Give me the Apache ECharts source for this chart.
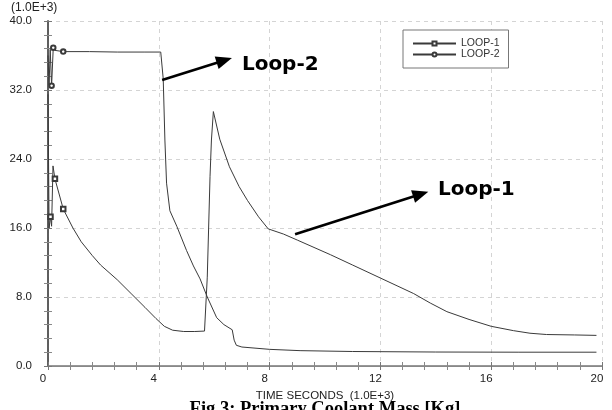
<!DOCTYPE html>
<html><head><meta charset="utf-8">
<script src="https://cdn.jsdelivr.net/npm/echarts@6/dist/echarts.min.js"></script>
<style>html,body{margin:0;padding:0;background:#fff}#c{width:612px;height:410px}</style>
</head><body><div id="c"></div>
<script>
// ---- data (time in 1.0E+3 s, mass in 1.0E+3 kg) ----
const xTicks = [0, 4, 8, 12, 16, 20];
const yTicks = [0, 8, 16, 24, 32, 40];
const seriesNames = ['LOOP-1', 'LOOP-2'];
const loop1 = [
  [0, 31.5], [0.04, 16.0], [0.09, 17.3], [0.13, 16.2], [0.18, 23.2], [0.25, 21.7],
  [0.55, 18.2], [0.9, 16.0], [1.2, 14.4], [1.6, 12.8], [1.9, 11.7], [2.5, 10.0],
  [3.0, 8.4], [3.5, 6.8], [3.9, 5.5], [4.2, 4.6], [4.5, 4.15], [4.9, 4.0],
  [5.3, 4.0], [5.65, 4.05], [5.75, 10.3], [5.85, 22.0], [5.9, 26.2], [5.97, 29.5],
  [6.2, 26.3], [6.55, 23.1], [6.9, 20.8], [7.2, 19.2], [7.6, 17.3], [7.95, 15.9],
  [8.5, 15.3], [9.0, 14.6], [10.2, 12.9], [11.0, 11.7], [12.0, 10.2], [12.6, 9.3],
  [13.2, 8.4], [13.8, 7.3], [14.4, 6.3], [15.2, 5.4], [16.0, 4.6], [16.8, 4.1],
  [17.4, 3.8], [18.0, 3.65], [19.0, 3.6], [19.8, 3.55]
];
const loop2 = [
  [0, 36.0], [0.04, 32.6], [0.08, 36.7], [0.13, 32.5], [0.19, 36.9], [0.24, 36.6],
  [0.55, 36.45], [1.5, 36.45], [2.5, 36.4], [3.5, 36.4], [4.07, 36.4], [4.16, 33.3],
  [4.22, 26.2], [4.28, 21.2], [4.4, 18.0], [4.65, 16.2], [5.0, 13.4], [5.25, 11.6],
  [5.49, 10.1], [5.75, 8.0], [6.09, 5.6], [6.35, 4.8], [6.65, 4.2], [6.72, 3.0],
  [6.8, 2.4], [7.0, 2.2], [8.0, 1.93], [9.1, 1.78], [11.0, 1.68], [14.0, 1.62],
  [17.0, 1.6], [19.8, 1.6]
];
const loop1Markers = [2, 5, 6];
const loop2Markers = [4, 3, 6];
const annotations = [
  { text: 'Loop-2', from: [4.12, 33.16], to: [6.64, 35.71], label: [7.0, 34.9] },
  { text: 'Loop-1', from: [8.92, 15.27], to: [13.73, 20.21], label: [14.08, 20.4] }
];

// ---- chart ----
const chart = echarts.init(document.getElementById('c'), null, { renderer: 'canvas' });
const font = 'Liberation Sans, Arial, Helvetica, sans-serif';
const xMin = xTicks[0], xMax = xTicks[xTicks.length - 1], xInt = xTicks[1] - xTicks[0];
const yMin = yTicks[0], yMax = yTicks[yTicks.length - 1], yInt = yTicks[1] - yTicks[0];

function boxAxis(base, extra) {
  return Object.assign({
    type: 'value', min: base.min, max: base.max, interval: base.interval,
    axisTick: { show: true, inside: false, length: -4, lineStyle: { color: '#777' } },
    minorTick: { show: true, splitNumber: 5, length: -4, lineStyle: { color: '#888' } },
    axisLabel: { show: false },
    splitLine: { show: false }
  }, extra);
}
const xBase = { min: xMin, max: xMax, interval: xInt };
const yBase = { min: yMin, max: yMax, interval: yInt };

const lineColor = '#3a3a3a';
chart.setOption({
  animation: false,
  backgroundColor: '#fff',
  grid: { left: 48, right: 10, top: 21, bottom: 44, containLabel: false },
  xAxis: [
    boxAxis(xBase, {
      position: 'bottom',
      name: 'TIME SECONDS  (1.0E+3)', nameLocation: 'middle', nameGap: 20,
      nameTextStyle: { fontFamily: font, fontSize: 11.5, color: '#222' },
      axisLine: { show: true, lineStyle: { color: '#777', width: 1.5 } },
      axisLabel: { show: true, fontFamily: font, fontSize: 11.5, color: '#222', margin: 7, padding: [0, 10, 0, 0],
        formatter: v => String(v) },
      splitLine: { show: true, lineStyle: { color: '#d4d4d4', type: [4, 4], width: 1 } }
    }),
    boxAxis(xBase, { position: 'top', axisLine: { show: true, lineStyle: { color: '#888', width: 1.2 } } })
  ],
  yAxis: [
    boxAxis(yBase, {
      position: 'left',
      axisLine: { show: true, lineStyle: { color: '#111', width: 1.5 } },
      axisLabel: { show: true, fontFamily: font, fontSize: 11.5, color: '#222', margin: 16,
        formatter: v => v.toFixed(1) },
      splitLine: { show: true, lineStyle: { color: '#d4d4d4', type: [4, 4], width: 1 } }
    }),
    boxAxis(yBase, { position: 'right', axisLine: { show: true, lineStyle: { color: '#666', width: 1.5 } } })
  ],
  legend: {
    left: 403, top: 30, orient: 'vertical',
    itemWidth: 43, itemHeight: 5, itemGap: 0,
    padding: [8, 9, 8, 9],
    borderColor: '#777', borderWidth: 1, backgroundColor: '#fff',
    textStyle: { fontFamily: font, fontSize: 10.5, lineHeight: 10, color: '#333' },
    data: seriesNames
  },
  series: [
    {
      name: seriesNames[0], type: 'line', data: loop1,
      symbol: 'emptyRect',
      symbolSize: (v, p) => loop1Markers.includes(p.dataIndex) ? 4.5 : 0,
      lineStyle: { color: lineColor, width: 1 }, itemStyle: { color: lineColor, borderWidth: 1 },
      z: 3
    },
    {
      name: seriesNames[1], type: 'line', data: loop2,
      symbol: 'emptyCircle',
      symbolSize: (v, p) => loop2Markers.includes(p.dataIndex) ? 4.5 : 0,
      lineStyle: { color: lineColor, width: 1 }, itemStyle: { color: lineColor, borderWidth: 1 },
      z: 3
    }
  ]
});

// ---- annotations (arrows + labels) placed through the axes ----
const gfx = [];
annotations.forEach(a => {
  const p1 = chart.convertToPixel({ gridIndex: 0 }, a.from);
  const p2 = chart.convertToPixel({ gridIndex: 0 }, a.to);
  const pl = chart.convertToPixel({ gridIndex: 0 }, a.label);
  const dx = p2[0] - p1[0], dy = p2[1] - p1[1];
  const len = Math.hypot(dx, dy), ux = dx / len, uy = dy / len;
  const hl = 16, hw = 6.5;
  const bx = p2[0] - ux * hl, by = p2[1] - uy * hl;
  gfx.push({ type: 'line', shape: { x1: p1[0], y1: p1[1], x2: bx + ux * 2, y2: by + uy * 2 },
    style: { stroke: '#000', lineWidth: 2.6 }, z: 10 });
  gfx.push({ type: 'polygon', shape: { points: [[p2[0], p2[1]], [bx - uy * hw, by + ux * hw], [bx + uy * hw, by - ux * hw]] },
    style: { fill: '#000' }, z: 10 });
  gfx.push({ type: 'text', x: pl[0], y: pl[1], style: { text: a.text, fill: '#000',
    font: 'bold 20px "DejaVu Sans", Verdana, sans-serif', align: 'left', verticalAlign: 'middle' }, z: 10 });
});
gfx.push({ type: 'text', x: 11, y: 8, style: { text: '(1.0E+3)', fill: '#222',
  font: '12px ' + font, align: 'left', verticalAlign: 'middle' } });
gfx.push({ type: 'text', x: 325, y: 409, style: { text: 'Fig.3: Primary Coolant Mass [Kg]', fill: '#000',
  font: 'bold 18.5px "Liberation Serif", "Times New Roman", serif', align: 'center', verticalAlign: 'middle' } });
chart.setOption({ graphic: gfx });
</script>
</body></html>
